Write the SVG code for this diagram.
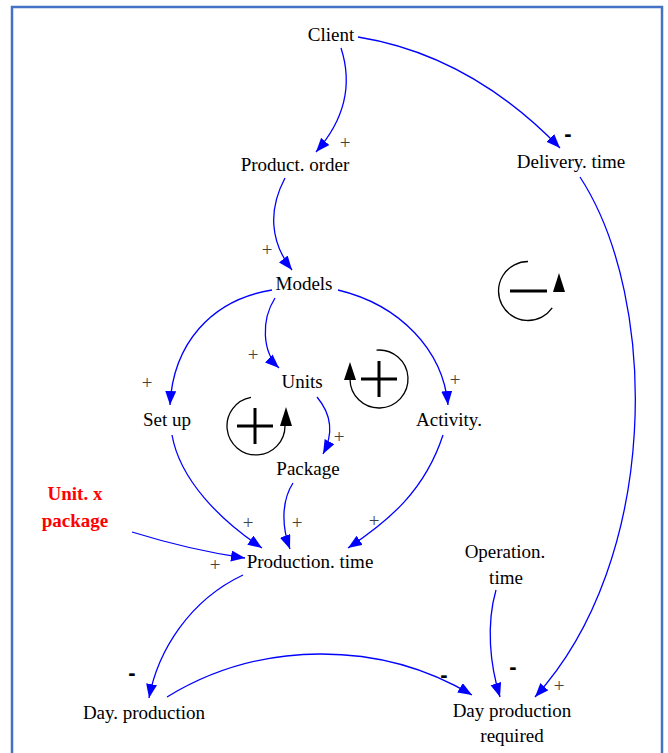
<svg xmlns="http://www.w3.org/2000/svg" width="668" height="753" viewBox="0 0 668 753">
<defs>
<marker id="ah" markerUnits="userSpaceOnUse" markerWidth="15" markerHeight="12" refX="14" refY="5.5" orient="auto">
<path d="M0,0 L14,5.5 L0,11 z" fill="#0000FF"/>
</marker>
<style>
text{font-family:"Times New Roman","Liberation Serif","DejaVu Serif",serif}
.n{font-size:19px;fill:#000;text-anchor:middle}
.r{font-size:19px;font-weight:bold;fill:#FF0000;text-anchor:middle}
.p{font-size:19px;fill:#404040;text-anchor:middle}
text.m{font-family:"Liberation Sans",Arial,sans-serif;font-size:22px;font-weight:bold;fill:#000;text-anchor:middle}
.c{fill:none;stroke:#0000FF;stroke-width:1.3;marker-end:url(#ah)}
.lc{fill:none;stroke:#000;stroke-width:1.3}
.ls{stroke:#000;stroke-width:3}
</style>
</defs>
<rect width="668" height="753" fill="#fff"/>
<rect x="12" y="7" width="650" height="770" fill="none" stroke="#4472C4" stroke-width="2.5"/>

<g id="connectors">
<path class="c" d="M341,48 C352,82 346,118 316,152"/>
<path class="c" d="M358,37 Q470,55 560,148"/>
<path class="c" d="M285,178 C268,210 270,242 292,270"/>
<path class="c" d="M272,290 C210,300 173,345 170,405"/>
<path class="c" d="M275,298 C261,320 262,352 279,368"/>
<path class="c" d="M338,290 C400,305 443,350 448,405"/>
<path class="c" d="M317,397 C332,415 333,435 323,454"/>
<path class="c" d="M172,435 C180,480 220,520 262,548"/>
<path class="c" d="M293,483 C282,500 281,525 290,549"/>
<path class="c" d="M443,435 C425,490 390,520 348,548"/>
<path class="c" d="M132,532 Q190,550 245,558"/>
<path class="c" d="M243,575 C190,600 158,650 149,698"/>
<path class="c" d="M167,697 C260,640 380,640 472,695"/>
<path class="c" d="M496,590 C486,625 490,665 500,697"/>
<path class="c" d="M580,177 C660,300 660,560 535,697"/>
</g>

<g id="signs">
<text class="p" x="345" y="149">+</text>
<text class="m" x="568" y="141">-</text>
<text class="p" x="267" y="256">+</text>
<text class="p" x="253" y="361">+</text>
<text class="p" x="147" y="389">+</text>
<text class="p" x="455" y="386">+</text>
<text class="p" x="339" y="443">+</text>
<text class="p" x="248" y="529">+</text>
<text class="p" x="297" y="529">+</text>
<text class="p" x="374" y="527">+</text>
<text class="p" x="215" y="571">+</text>
<text class="m" x="132" y="680">-</text>
<text class="m" x="444" y="682">-</text>
<text class="m" x="513" y="674">-</text>
<text class="p" x="559" y="692">+</text>
</g>

<g id="loop-r1">
<path class="lc" d="M285,426 A29,29 0 1 1 251,397.4"/>
<path d="M280,426 L292,426 L286,407 z" fill="#000"/>
<line class="ls" x1="237" y1="426" x2="273" y2="426"/>
<line class="ls" x1="255" y1="408" x2="255" y2="444"/>
</g>
<g id="loop-r2">
<path class="lc" d="M350,379 A29,29 0 1 0 376.5,350.1"/>
<path d="M344,380 L356,380 L350,362 z" fill="#000"/>
<line class="ls" x1="361" y1="379" x2="397" y2="379"/>
<line class="ls" x1="379" y1="361" x2="379" y2="397"/>
</g>
<g id="loop-b1">
<path class="lc" d="M528,261.5 A29.5,29.5 0 1 0 552.2,307.9"/>
<path d="M553,292 L565,292 L559,273 z" fill="#000"/>
<line class="ls" x1="510" y1="291" x2="547" y2="291"/>
</g>

<g id="client"><text class="n" x="331" y="41">Client</text></g>
<g id="product-order"><text class="n" x="295" y="171">Product. order</text></g>
<g id="delivery-time"><text class="n" x="571" y="168">Delivery. time</text></g>
<g id="models"><text class="n" x="304" y="290">Models</text></g>
<g id="units"><text class="n" x="302" y="388">Units</text></g>
<g id="set-up"><text class="n" x="167" y="426">Set up</text></g>
<g id="activity"><text class="n" x="449" y="426">Activity.</text></g>
<g id="package"><text class="n" x="308" y="475">Package</text></g>
<g id="unit-x-package"><text class="r" x="75" y="500">Unit. x</text><text class="r" x="75" y="527">package</text></g>
<g id="production-time"><text class="n" x="310" y="568">Production. time</text></g>
<g id="operation-time"><text class="n" x="505" y="558">Operation.</text><text class="n" x="506" y="584">time</text></g>
<g id="day-production"><text class="n" x="144" y="719">Day. production</text></g>
<g id="day-production-required"><text class="n" x="512" y="717">Day production</text><text class="n" x="512" y="742">required</text></g>
</svg>
